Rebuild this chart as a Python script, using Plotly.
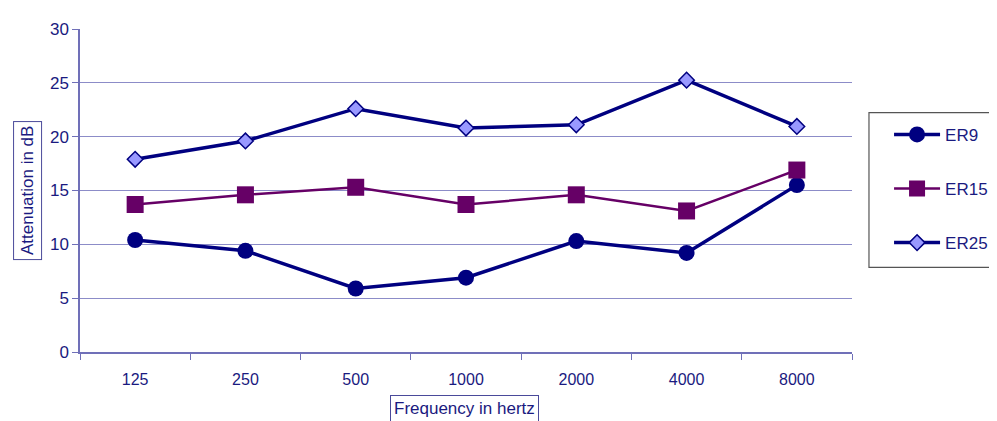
import plotly.graph_objects as go

frequencies = ["125", "250", "500", "1000", "2000", "4000", "8000"]
er9 = [10.4, 9.4, 5.9, 6.9, 10.3, 9.2, 15.5]
er15 = [13.7, 14.6, 15.3, 13.7, 14.6, 13.1, 16.9]
er25 = [17.9, 19.6, 22.6, 20.8, 21.1, 25.25, 20.95]

NAVY = "#000080"
PURPLE = "#660066"
FONT = "Liberation Sans, Arial, sans-serif"
TXT = "#1a1a80"
AXIS = "#7070b8"
GRID = "#8c8cc8"

fig = go.Figure()
fig.add_trace(go.Scatter(
    x=frequencies, y=er9, name="ER9", mode="lines+markers", legendgroup="a",
    line=dict(color=NAVY, width=3.5),
    marker=dict(symbol="circle", size=16, color=NAVY, line=dict(width=0)),
))
fig.add_trace(go.Scatter(
    x=frequencies, y=er15, name="ER15", mode="lines+markers", legendgroup="b",
    line=dict(color=PURPLE, width=2.5),
    marker=dict(symbol="square", size=17, color=PURPLE, line=dict(width=0)),
))
fig.add_trace(go.Scatter(
    x=frequencies, y=er25, name="ER25", mode="lines+markers", legendgroup="c",
    line=dict(color=NAVY, width=3.5),
    marker=dict(symbol="diamond", size=12, color="#9999ff", line=dict(color=NAVY, width=1.5)),
))

fig.update_layout(
    width=997, height=421,
    margin=dict(l=72, r=152, t=16, b=77),
    paper_bgcolor="white", plot_bgcolor="white",
    font=dict(family=FONT, size=16, color=TXT),
    showlegend=True,
    legend=dict(
        x=1.048, y=0.728, xanchor="left", yanchor="top",
        bgcolor="rgba(0,0,0,0)", borderwidth=0,
        font=dict(size=17, color=TXT),
        tracegroupgap=29,
        itemwidth=46,
    ),
    xaxis=dict(
        type="category", range=[-0.5, 6.5],
        showline=True, linecolor=AXIS, linewidth=1.5,
        ticks="outside", tickson="boundaries", ticklen=6, tickcolor=AXIS,
        showgrid=False, zeroline=False,
        tickfont=dict(size=16, color=TXT),
        ticklabelstandoff=12,
    ),
    yaxis=dict(
        range=[0, 30], dtick=5,
        showline=True, linecolor=AXIS, linewidth=1.5,
        ticks="outside", ticklen=6, tickcolor=AXIS,
        showgrid=True, gridcolor=GRID, gridwidth=1.2,
        zeroline=False,
        tickfont=dict(size=17, color=TXT),
    ),
    shapes=[
        dict(type="rect", xref="paper", yref="paper",
             x0=(870 - 80) / 773, x1=(1005 - 80) / 773,
             y0=(352 - 266) / 328, y1=(352 - 109) / 328,
             line=dict(color="#555555", width=1.2), fillcolor="rgba(0,0,0,0)", layer="below"),
    ],
    annotations=[
        dict(text="Attenuation in dB", textangle=-90, xref="paper", yref="paper",
             x=(27.5 - 80) / 773, y=(352 - 188) / 328, xanchor="center", yanchor="middle",
             showarrow=False, font=dict(size=17, color=TXT),
             bordercolor="#4a4a9a", borderwidth=1, borderpad=4, bgcolor="white"),
        dict(text="Frequency in hertz", xref="paper", yref="paper",
             x=(465 - 80) / 773, y=(352 - 409) / 328, xanchor="center", yanchor="middle",
             showarrow=False, font=dict(size=17, color=TXT),
             bordercolor="#4a4a9a", borderwidth=1, borderpad=3, bgcolor="white"),
    ],
)

fig.write_html("out.html")
